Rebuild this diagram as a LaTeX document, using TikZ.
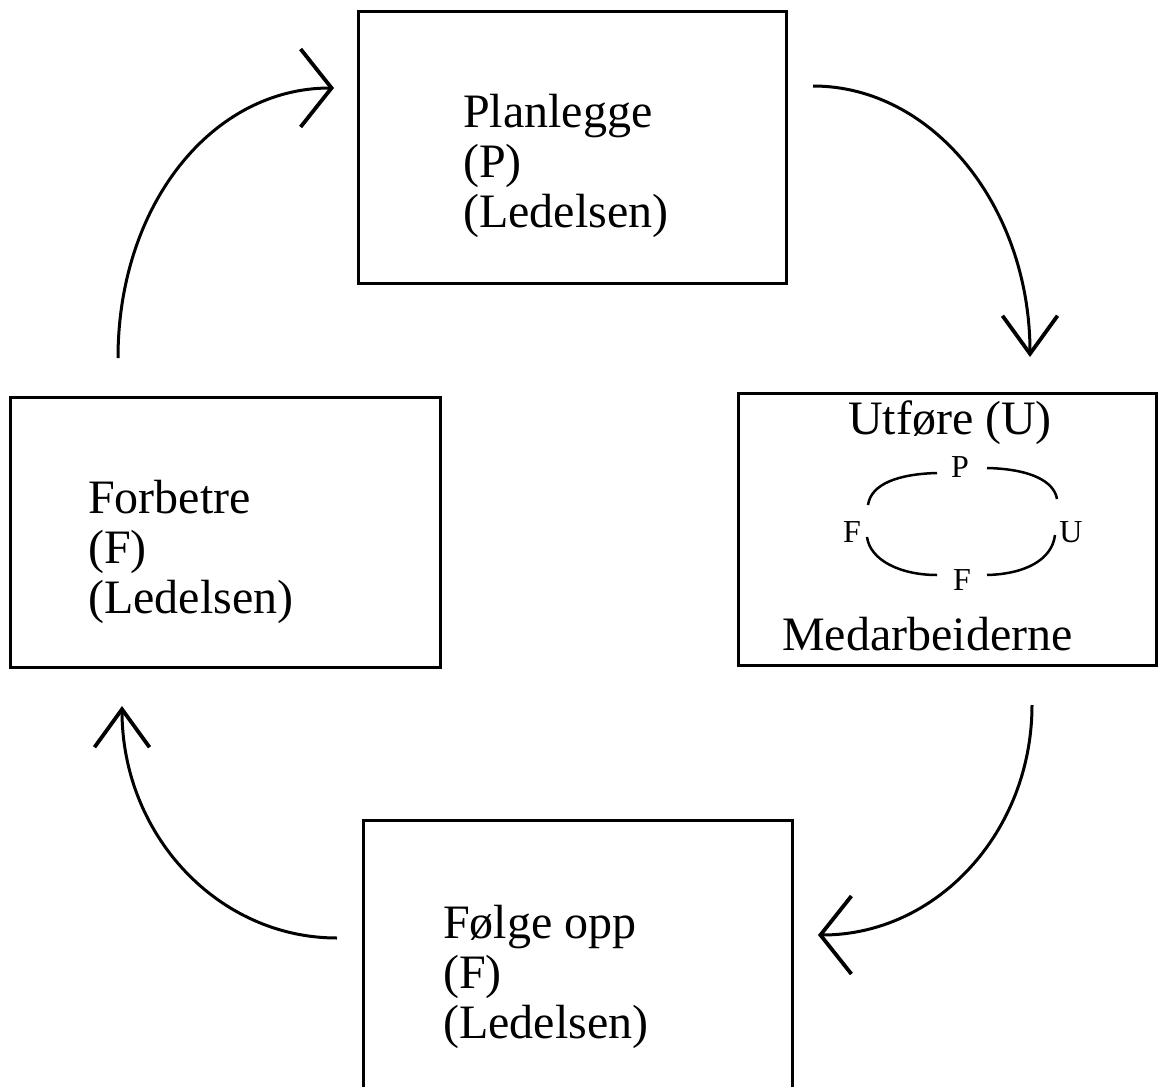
\documentclass[tikz,border=0pt]{standalone}
\usepackage{fontspec}
\setmainfont{Liberation Serif}
\usetikzlibrary{arrows.meta}
\tikzset{
  box/.style={draw, line width=3pt, rectangle, inner sep=0pt},
  label/.style={inner sep=0pt, align=left, font=\fontsize{48}{50}\selectfont},
  small/.style={inner sep=0pt, font=\fontsize{32}{34}\selectfont},
  flow/.style={line width=3pt},
  harrow/.style={flow, -{Straight Barb[length=31pt, width=78pt, line width=3.8pt]}},
  varrow/.style={flow, -{Straight Barb[length=38pt, width=55pt, line width=3.8pt]}},
  ring/.style={line width=2.5pt},
}
\begin{document}
\begin{tikzpicture}[x=1pt, y=-1pt]
\useasboundingbox (0,0) rectangle (1158,1086);
\fill[white] (0,0) rectangle (1158,1086);

% the four boxes
\node[box, minimum width=428pt, minimum height=271pt] (plan) at (572,147.5) {};
\node[box, minimum width=418pt, minimum height=272pt] (exec) at (947,529) {};
\node[box, minimum width=430pt, minimum height=270pt] (impr) at (225,532) {};
\node[box, minimum width=429pt, minimum height=290pt] (follow) at (577.5,965) {};

% box texts (anchored at the baseline of their last line)
\node[label, anchor=base west] (plantxt) at (463,227) {Planlegge\\(P)\\(Ledelsen)};
\node[label, anchor=base west] (imprtxt) at (88,613) {Forbetre\\(F)\\(Ledelsen)};
\node[label, anchor=base west] (followtxt) at (443,1038) {Følge opp\\(F)\\(Ledelsen)};
\node[label, anchor=base] (exectop) at (950,434) {Utføre (U)};
\node[label, anchor=base west] (execbot) at (782,650) {Medarbeiderne};

% small inner cycle
\node[small] (cp) at (960,467) {P};
\node[small] (cu) at (1071,532) {U};
\node[small] (cf1) at (852,532) {F};
\node[small] (cf2) at (962,580) {F};
\draw[ring] (868,505) .. controls (871,484) and (898,474) .. (937,473);
\draw[ring] (987,468) .. controls (1030,469) and (1054,481) .. (1057,499);
\draw[ring] (867,537) .. controls (870,560) and (900,575) .. (937,575);
\draw[ring] (987,575) .. controls (1025,574) and (1052,560) .. (1055,535);

% cycle arrows
\coordinate (a1s) at (118,358);
\coordinate (a1e) at (334,88);
\coordinate (a2s) at (813,86);
\coordinate (a2e) at (1030,357);
\coordinate (a3s) at (1032,705);
\coordinate (a3e) at (818,935);
\coordinate (a4s) at (337,938);
\coordinate (a4e) at (122,706);
\draw[harrow] (a1s) .. controls (118,205) and (212,88) .. (a1e);
\draw[varrow] (a2s) .. controls (933,86) and (1030,207) .. (a2e);
\draw[harrow] (a3s) .. controls (1032,832) and (937,935) .. (a3e);
\draw[varrow] (a4s) .. controls (218,938) and (122,835) .. (a4e);
\end{tikzpicture}
\end{document}
